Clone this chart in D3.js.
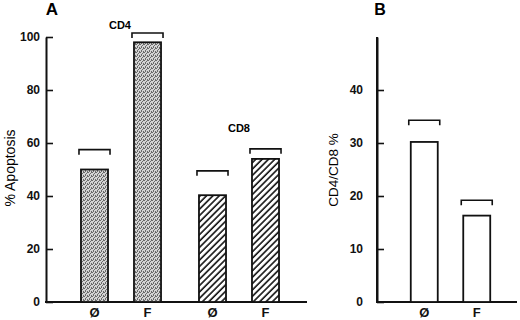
<!DOCTYPE html>
<html>
<head>
<meta charset="utf-8">
<script src="https://cdn.jsdelivr.net/npm/d3@7"></script>
<style>
  body { margin: 0; background: #fff; }
  svg { display: block; font-family: "Liberation Sans", Arial, sans-serif; }
</style>
</head>
<body>
<div id="chart"></div>
<script>
// 数据
const groupsA = ["CD4", "CD8"];
const treatments = ["Ø", "F"];
const cd4Values = [50, 98];
const cd4Err = [57.5, 101.5];
const cd8Values = [40.3, 54];
const cd8Err = [49.5, 57.8];
const ratioValues = [30.2, 16.3];
const ratioErr = [34.3, 19.2];
const ticksA = [0, 20, 40, 60, 80, 100];
const ticksB = [0, 10, 20, 30, 40];

const W = 520, H = 320;
const svg = d3.select("#chart").append("svg")
    .attr("width", W).attr("height", H);

// 填充图案
const defs = svg.append("defs");
const dots = defs.append("pattern")
    .attr("id", "stipple").attr("patternUnits", "userSpaceOnUse")
    .attr("width", 4).attr("height", 4);
dots.append("rect").attr("width", 4).attr("height", 4).attr("fill", "#d4d4d4");
[[0, 0], [2, 1], [1, 2], [3, 3], [3, 0], [1, 3]].forEach(p => {
    dots.append("rect").attr("x", p[0]).attr("y", p[1])
        .attr("width", 1).attr("height", 1).attr("fill", "#6a6a6a");
});
const hatch = defs.append("pattern")
    .attr("id", "hatch").attr("patternUnits", "userSpaceOnUse")
    .attr("width", 4.5).attr("height", 4.5)
    .attr("patternTransform", "rotate(45)");
hatch.append("rect").attr("width", 4.5).attr("height", 4.5).attr("fill", "#fff");
hatch.append("line").attr("x1", 1).attr("y1", 0).attr("x2", 1).attr("y2", 4.5)
    .attr("stroke", "#111").attr("stroke-width", 1.6);

// 比例尺
const yA = d3.scaleLinear().domain([0, 100]).range([302, 37]);
const yB = d3.scaleLinear().domain([0, 50]).range([302, 37]);
const outer = d3.scaleBand().domain(groupsA).range([62, 298]);
const inner = d3.scaleBand().domain(treatments).range([0, outer.bandwidth()])
    .paddingInner(0.49).paddingOuter(0.358);
const xB = d3.scaleBand().domain(treatments).range([384, 517])
    .paddingInner(0.486).paddingOuter(0.51);

function styleAxis(g) {
    g.select(".domain").attr("stroke-width", 2).attr("stroke", "#111");
    g.selectAll(".tick line").attr("stroke-width", 1.6).attr("stroke", "#111");
    g.selectAll(".tick text").attr("font-size", 12).attr("font-weight", "bold").attr("fill", "#111");
}

// y轴
svg.append("g").attr("transform", "translate(46,0)")
    .call(d3.axisLeft(yA).tickValues(ticksA).tickSize(-7).tickSizeOuter(0).tickPadding(6))
    .call(styleAxis);
svg.append("g").attr("transform", "translate(377,0)")
    .call(d3.axisLeft(yB).tickValues(ticksB).tickSize(-7).tickSizeOuter(0).tickPadding(14))
    .call(styleAxis);
svg.append("line").attr("x1", 377).attr("x2", 377).attr("y1", yB(50)).attr("y2", yB(0))
    .attr("stroke", "#111").attr("stroke-width", 2);

// x轴
svg.append("line").attr("x1", 45).attr("x2", 307).attr("y1", yA(0)).attr("y2", yA(0))
    .attr("stroke", "#111").attr("stroke-width", 2);
svg.append("line").attr("x1", 376).attr("x2", 517).attr("y1", yB(0)).attr("y2", yB(0))
    .attr("stroke", "#111").attr("stroke-width", 2);

function xLabels(scale, tx) {
    const g = svg.append("g").attr("transform", `translate(${tx},${yA(0)})`)
        .call(d3.axisBottom(scale).tickSize(0).tickPadding(6));
    g.select(".domain").remove();
    g.selectAll(".tick text").attr("font-size", 13).attr("font-weight", "bold").attr("fill", "#111");
}
groupsA.forEach(gname => xLabels(inner, outer(gname)));
xLabels(xB, 0);

// 柱子和误差括号
function drawBars(vals, errs, xf, bw, y, fill) {
    vals.forEach((v, i) => {
        const x0 = xf(treatments[i]);
        svg.append("rect")
            .attr("x", x0).attr("y", y(v))
            .attr("width", bw).attr("height", y(0) - y(v))
            .attr("fill", fill).attr("stroke", "#111").attr("stroke-width", 1.8);
        const ey = y(errs[i]);
        svg.append("path")
            .attr("d", `M${x0 - 2},${ey + 5}V${ey}H${x0 + bw + 2}V${ey + 5}`)
            .attr("fill", "none").attr("stroke", "#111").attr("stroke-width", 1.6);
    });
}
drawBars(cd4Values, cd4Err, t => outer("CD4") + inner(t), inner.bandwidth(), yA, "url(#stipple)");
drawBars(cd8Values, cd8Err, t => outer("CD8") + inner(t), inner.bandwidth(), yA, "url(#hatch)");
drawBars(ratioValues, ratioErr, t => xB(t), xB.bandwidth(), yB, "#fff");

// 标签
svg.append("text").attr("x", 120).attr("y", 29).attr("text-anchor", "middle")
    .attr("font-size", 11).attr("font-weight", "bold").text("CD4");
svg.append("text").attr("x", 239).attr("y", 132).attr("text-anchor", "middle")
    .attr("font-size", 11).attr("font-weight", "bold").text("CD8");
svg.append("text").attr("x", 52).attr("y", 15).attr("text-anchor", "middle")
    .attr("font-size", 17).attr("font-weight", "bold").text("A");
svg.append("text").attr("x", 380).attr("y", 15).attr("text-anchor", "middle")
    .attr("font-size", 16).attr("font-weight", "bold").text("B");
svg.append("text").attr("transform", "translate(15,168) rotate(-90)")
    .attr("text-anchor", "middle").attr("font-size", 14).text("% Apoptosis");
svg.append("text").attr("transform", "translate(338,170) rotate(-90)")
    .attr("text-anchor", "middle").attr("font-size", 13.5).text("CD4/CD8 %");
</script>
</body>
</html>
